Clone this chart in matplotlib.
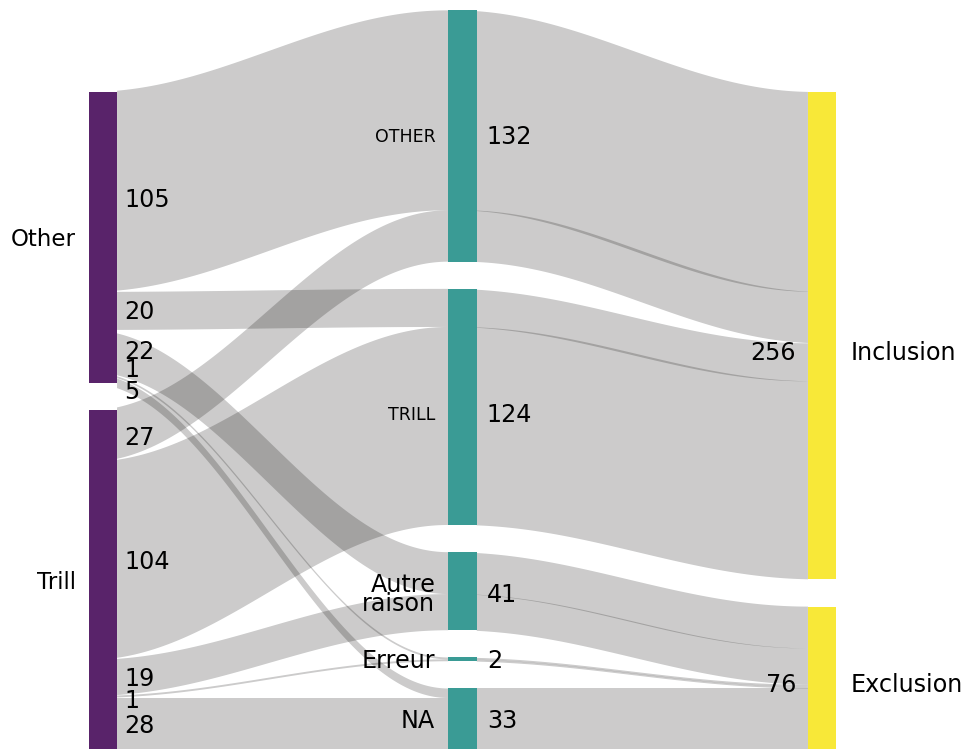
import numpy as np
import matplotlib
matplotlib.use("Agg")
import matplotlib.pyplot as plt
from matplotlib.patches import Polygon, Rectangle

plt.rcParams['font.family'] = ['DejaVu Sans']

# ---------------- data ----------------
left_nodes = ["Other", "Trill"]
mid_nodes = ["OTHER", "TRILL", "Autre\nraison", "Erreur", "NA"]
right_nodes = ["Inclusion", "Exclusion"]
# value of each left -> middle flow (same order as mid_nodes)
other_to_mid = [105, 20, 22, 1, 5]
trill_to_mid = [27, 104, 19, 1, 28]
# right node reached from each middle node
mid_to_right = ["Inclusion", "Inclusion", "Exclusion", "Exclusion", "Exclusion"]

# ---------------- style ----------------
W, H, DPI = 964, 749, 100
PX_X = 359.7          # pixels per x unit
PX_Y = 1.904          # pixels per value unit
GAP = 14.29           # vertical gap between nodes (value units)
BAR_W = 28.5 / PX_X
X = [1.0, 2.0, 3.0]
NODE_COLORS = ["#59236a", "#3a9b95", "#f8e838"]
FLOW_COLOR = (0.02, 0.008, 0.0)
FLOW_ALPHA = 0.204
INERTIA = 0.07        # spline-like carry-over of incoming rise (px shift per px rise)
FS = 17.2
FS_LEFT = 16.5
FS_SMALL = 12.5

flows = [other_to_mid, trill_to_mid]
alluvia = []
for i, row in enumerate(flows):
    for j, v in enumerate(row):
        k = right_nodes.index(mid_to_right[j])
        alluvia.append((i, j, k, v))

left_tot = [sum(r) for r in flows]
mid_tot = [sum(flows[i][j] for i in range(len(flows))) for j in range(len(mid_nodes))]
right_tot = [sum(a[3] for a in alluvia if a[2] == k) for k in range(len(right_nodes))]


def stack(totals):
    y = sum(totals) + GAP * (len(totals) - 1)
    pos = []
    for t in totals:
        pos.append((y - t, y))
        y -= t + GAP
    return pos


left_pos, mid_pos, right_pos = stack(left_tot), stack(mid_tot), stack(right_tot)


def assign(pos, node_of, order_of):
    res = {}
    cursor = [p[1] for p in pos]
    for a in sorted(alluvia, key=lambda a: (node_of(a), order_of(a))):
        n = node_of(a)
        res[a] = (cursor[n] - a[3], cursor[n])
        cursor[n] -= a[3]
    return res


L = assign(left_pos, lambda a: a[0], lambda a: a[1])
M = assign(mid_pos, lambda a: a[1], lambda a: a[0])
R = assign(right_pos, lambda a: a[2], lambda a: (a[1], a[0]))

fig = plt.figure(figsize=(W / DPI, H / DPI), dpi=DPI)
ax = fig.add_axes([0, 0, 1, 1])
c1 = 102.8
b_px = 751.3
ax.set_xlim(1 - c1 / PX_X, 1 + (W - c1) / PX_X)
ax.set_ylim((b_px - H) / PX_Y, b_px / PX_Y)
ax.axis('off')


def edge(y0, y1, cx0, cx1, x0, x1, n=400):
    f = np.linspace(0, 1, n)
    s = (1 - np.cos(np.pi * f)) / 2
    cx = cx0 + f * (cx1 - cx0)
    cy = y0 + s * (y1 - y0)
    keep = (cx > x0) & (cx < x1)
    y_start = np.interp(x0, cx, cy)
    return np.concatenate([[x0], cx[keep], [x1]]), np.concatenate([[y_start], cy[keep], [y1]])


def band(x0, x1, a, b, cx0, cx1, shift=0.0):
    xt, yt = edge(a[1], b[1], cx0 + shift, cx1 + shift, x0, x1)
    xb, yb = edge(a[0], b[0], cx0 + shift, cx1 + shift, x0, x1)
    verts = np.vstack([np.column_stack([xt, yt]), np.column_stack([xb[::-1], yb[::-1]])])
    ax.add_patch(Polygon(verts, closed=True, facecolor=FLOW_COLOR, alpha=FLOW_ALPHA,
                         edgecolor='none', lw=0))


hw = BAR_W / 2
for a in alluvia:
    band(X[0] + hw, X[1] - hw, L[a], M[a], X[0] - hw, X[1] - hw)
    rise_px = max(M[a][1] - L[a][1], 0) * PX_Y
    band(X[1] + hw, X[2] - hw, M[a], R[a], X[1] - hw, X[2] - hw,
         shift=INERTIA * rise_px / PX_X)

for xi, pos, col in [(X[0], left_pos, NODE_COLORS[0]), (X[1], mid_pos, NODE_COLORS[1]),
                     (X[2], right_pos, NODE_COLORS[2])]:
    for (y0, y1) in pos:
        ax.add_patch(Rectangle((xi - hw, y0), BAR_W, y1 - y0, facecolor=col, edgecolor='none'))

px = 1 / PX_X
py = 1 / PX_Y
VOFF = -1.5 * py   # visual centring of glyphs

# left node labels
for n, (y0, y1) in zip(left_nodes, left_pos):
    ax.text(X[0] - hw - 13 * px, (y0 + y1) / 2 + VOFF, n, ha='right', va='center', fontsize=FS_LEFT)

# left flow value labels
left_nudge = {(0, 0): -7, (0, 3): 4, (0, 4): -11.5, (1, 3): -2}
for a in alluvia:
    y0, y1 = L[a]
    dy = left_nudge.get((a[0], a[1]), 0) * py
    ax.text(X[0] + hw + 7 * px, (y0 + y1) / 2 + dy + VOFF, str(a[3]), ha='left', va='center', fontsize=FS)

# middle labels
mid_nudge = [1, -6.5, -2, 0, 0]
for n, (y0, y1), t, nd in zip(mid_nodes, mid_pos, mid_tot, mid_nudge):
    yc = (y0 + y1) / 2 + nd * py + VOFF
    small = n.isupper() and n != "NA"
    ax.text(X[1] - hw - 13 * px, yc, n, ha='right', va='center',
            fontsize=FS_SMALL if small else FS, linespacing=0.75)
    ax.text(X[1] + hw + 10 * px, yc, str(t), ha='left', va='center', fontsize=FS)

# right labels
right_nudge = [-16, -5]
for n, (y0, y1), t, nd in zip(right_nodes, right_pos, right_tot, right_nudge):
    yc = (y0 + y1) / 2 + nd * py + VOFF
    ax.text(X[2] - hw - 12 * px, yc, str(t), ha='right', va='center', fontsize=FS)
    ax.text(X[2] + hw + 14 * px, yc, n, ha='left', va='center', fontsize=FS)

fig.savefig("out.png", dpi=DPI)
